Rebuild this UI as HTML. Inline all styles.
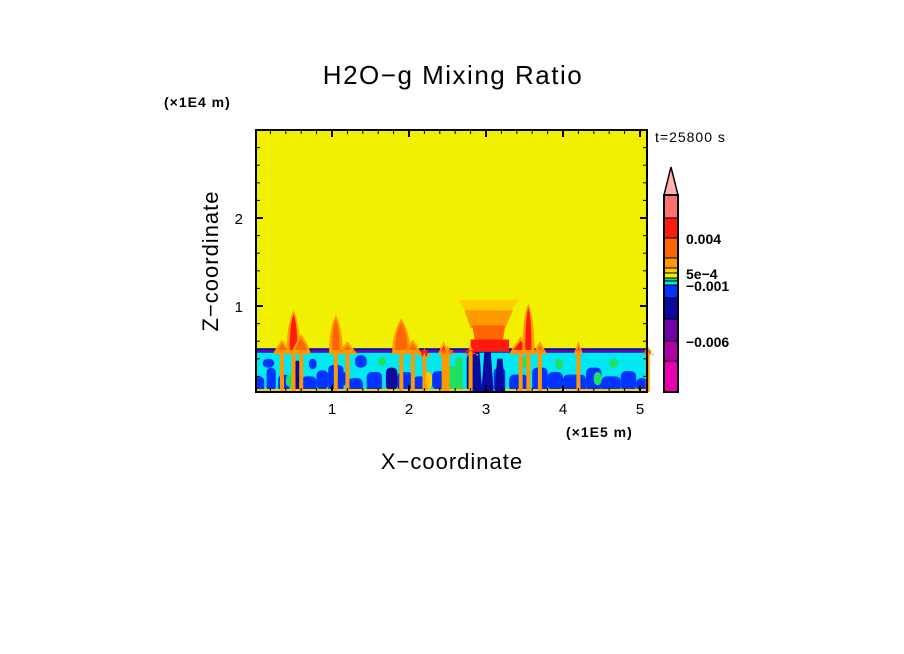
<!DOCTYPE html>
<html><head><meta charset="utf-8">
<style>
html,body{margin:0;padding:0;background:#fff;}
svg{display:block;font-family:"Liberation Sans",sans-serif;}
</style></head>
<body>
<svg id="chart" width="904" height="654" viewBox="0 0 904 654" xmlns="http://www.w3.org/2000/svg">
<text x="453" y="84" font-size="26" text-anchor="middle" fill="#000" letter-spacing="1.5">H2O−g Mixing Ratio</text>
<text x="164" y="107" font-size="14" fill="#000" letter-spacing="1" font-weight="bold">(×1E4 m)</text>
<text x="655" y="142" font-size="14" fill="#000" letter-spacing="1">t=25800 s</text>
<text x="566" y="437" font-size="14" fill="#000" letter-spacing="1" font-weight="bold">(×1E5 m)</text>
<text x="452" y="469" font-size="22" text-anchor="middle" fill="#000" letter-spacing="1">X−coordinate</text>
<text x="218" y="261" font-size="22" text-anchor="middle" fill="#000" letter-spacing="1" transform="rotate(-90 218 261)">Z−coordinate</text>
<g id="plot"></g>
<g id="axes"></g>
<g id="cbar"></g>
</svg>
<script>
// ---- data ----
const xTicks = [1,2,3,4,5];
const zTicks = [1,2];
const levelColors = ["#e800b0","#b000a8","#7000a8","#0a0aa0","#0033ff","#00e8f0","#20e060","#f0f000","#ffcc00","#ff9900","#ff6600","#ff1a10","#ff7070"];
const levelLabels = ["-0.006","-0.001","5e-4","0.004"];
const labelLevelIdx = [2,5,8,11];
const blTop = 0.52;
const capDepth = 0.05;
// mottled lower layer cells: x (1e5 m), width, z-bottom, z-top, color level
const cellX = [0.0,0.15,0.3,0.5,0.6,0.8,0.95,1.2,1.45,1.7,1.85,2.05,2.3,2.5,2.75,3.1,3.3,3.6,3.8,4.0,4.3,4.5,4.75,4.95,0.1,0.7,1.3,1.6,2.6,3.45,3.9,4.6,0.4,1.1,2.2,3.7,4.4];
const cellW = [0.12,0.12,0.15,0.1,0.2,0.15,0.2,0.2,0.2,0.15,0.2,0.2,0.2,0.2,0.15,0.15,0.25,0.2,0.2,0.3,0.2,0.25,0.2,0.15,0.15,0.1,0.15,0.1,0.1,0.12,0.1,0.12,0.1,0.1,0.1,0.1,0.1];
const cellZ0 = [0.02,0.03,0.02,0.03,0.02,0.05,0.02,0.03,0.02,0.04,0.03,0.02,0.05,0.02,0.02,0.02,0.03,0.02,0.05,0.02,0.03,0.02,0.04,0.03,0.3,0.28,0.3,0.32,0.3,0.3,0.28,0.3,0.08,0.1,0.06,0.1,0.1];
const cellZ1 = [0.2,0.3,0.22,0.38,0.2,0.27,0.33,0.18,0.25,0.3,0.25,0.2,0.26,0.32,0.46,0.3,0.22,0.3,0.25,0.22,0.3,0.2,0.26,0.18,0.4,0.4,0.44,0.42,0.42,0.42,0.4,0.4,0.22,0.25,0.25,0.3,0.25];
const cellLev = [4,4,4,3,4,4,4,4,4,3,4,4,4,6,3,4,4,4,4,4,4,4,4,4,4,4,4,6,6,6,6,6,6,4,8,4,6];
// convective plumes: x (1e5 m), top z (1e4 m), width (1e5 m), color level
const plumeX = [0.35,0.5,0.6,1.05,1.2,1.9,2.05,2.2,2.45,2.5,2.8,3.45,3.55,3.7,4.2,5.1];
const plumeTop = [0.62,0.95,0.68,0.9,0.6,0.86,0.62,0.52,0.6,0.55,0.55,0.65,1.03,0.6,0.6,0.55];
const plumeW = [0.16,0.1,0.16,0.1,0.2,0.16,0.16,0.08,0.08,0.14,0.12,0.2,0.08,0.12,0.05,0.08];
const plumeLev = [10,11,10,10,10,10,10,11,11,10,11,11,11,10,11,10];
// anvil layers: x-start, x-end (at top), x-start, x-end (at bottom), z-bottom, z-top, level
const anvX0 = [2.65,2.72,2.82,2.8];
const anvX1 = [3.42,3.35,3.25,3.3];
const anvB0 = [2.75,2.8,2.88,2.8];
const anvB1 = [3.3,3.25,3.2,3.3];
const anvZ0 = [0.9,0.75,0.5,0.48];
const anvZ1 = [1.07,0.95,0.78,0.62];
const anvLev = [8,9,10,11];
const coreX = [2.88,3.02,3.18];
const coreTop = [0.48,0.5,0.4];
const coreW = [0.14,0.16,0.14];

// ---- axes ----
const X0=256,X1=647,Y0=130,Y1=392;
const sx = v => 255 + v*77;
const sz = v => 394 - v*88;
const NS="http://www.w3.org/2000/svg";
function mk(tag, parent, attrs){const e=document.createElementNS(NS,tag);for(const k in attrs)e.setAttribute(k,attrs[k]);parent.appendChild(e);return e;}
const plot=document.getElementById('plot');
const axes=document.getElementById('axes');
const cbar=document.getElementById('cbar');

let r=mk('rect',plot,{x:X0,y:Y0,width:X1-X0,height:Y1-Y0,fill:"#f0f000"});


r=mk('rect',plot,{x:X0,y:sz(blTop),width:X1-X0,height:Y1-sz(blTop),fill:levelColors[5]});


for(let i=0;i<cellX.length;i++){
  const c=mk('rect',plot,{x:sx(cellX[i]),y:sz(cellZ1[i]),width:cellW[i]*77,height:sz(cellZ0[i])-sz(cellZ1[i]),fill:levelColors[cellLev[i]],rx:5});
  
  
}
r=mk('rect',plot,{x:X0,y:Y1-3,width:X1-X0,height:3,fill:levelColors[8]});


for(let i=0;i<coreX.length;i++){
  const cx=sx(coreX[i]);const w=coreW[i]*77;
  const c=mk('path',plot,{d:`M${cx-w/2},${Y1} L${cx-w/4},${sz(coreTop[i])} L${cx+w/4},${sz(coreTop[i])} L${cx+w/2},${Y1} Z`,fill:levelColors[3]});
  
  
}
r=mk('rect',plot,{x:X0,y:sz(blTop),width:X1-X0,height:sz(blTop-capDepth)-sz(blTop),fill:levelColors[3]});


r=mk('rect',plot,{x:X0,y:sz(blTop-capDepth*0.4),width:X1-X0,height:2,fill:levelColors[2]});


for(let i=0;i<anvX0.length;i++){
  const p=mk('path',plot,{d:`M${sx(anvX0[i])},${sz(anvZ1[i])} L${sx(anvX1[i])},${sz(anvZ1[i])} L${sx(anvB1[i])},${sz(anvZ0[i])} L${sx(anvB0[i])},${sz(anvZ0[i])} Z`,fill:levelColors[anvLev[i]]});
  
  
}
for(let i=0;i<plumeX.length;i++){
  const cx=sx(plumeX[i]), top=sz(plumeTop[i]), w=plumeW[i]*77, base=sz(blTop-0.02);
  const s=mk('rect',plot,{x:cx-2,y:base,width:4,height:Y1-base,fill:levelColors[9]});
  
  
  const g=mk('path',plot,{d:`M${cx-w/2-3},${base+4} Q${cx-w/2-3},${top+14} ${cx},${top} Q${cx+w/2+3},${top+14} ${cx+w/2+3},${base+4} Z`,fill:levelColors[9]});
  
  
  const p=mk('path',plot,{d:`M${cx-w/2},${base} Q${cx-w/2},${top+14} ${cx},${top+4} Q${cx+w/2},${top+14} ${cx+w/2},${base} Z`,fill:levelColors[plumeLev[i]]});
  
  
}
r=mk('rect',axes,{x:X0,y:Y0,width:X1-X0,height:Y1-Y0,fill:"none",stroke:"#000","stroke-width":2});


for(let v=0.2;v<5.1;v+=0.2){
  const maj=Math.abs(v-Math.round(v))<1e-6;const L=maj?7:4;const x=sx(v);
  mk('line',axes,{x1:x,x2:x,y1:Y0,y2:Y0+L,stroke:"#000","stroke-width":maj?2:1});
  mk('line',axes,{x1:x,x2:x,y1:Y1,y2:Y1-L,stroke:"#000","stroke-width":maj?2:1});
}
for(let v=0.2;v<2.95;v+=0.2){
  const maj=Math.abs(v-Math.round(v))<1e-6;const L=maj?7:4;const y=sz(v);
  mk('line',axes,{x1:X0,x2:X0+L,y1:y,y2:y,stroke:"#000","stroke-width":maj?2:1});
  mk('line',axes,{x1:X1,x2:X1-L,y1:y,y2:y,stroke:"#000","stroke-width":maj?2:1});
}
xTicks.forEach(v=>{const t=mk('text',axes,{x:sx(v),y:414,"font-size":15,"text-anchor":"middle"});t.textContent=v;
  
  });
zTicks.forEach(v=>{const t=mk('text',axes,{x:243,y:sz(v)+6,"font-size":15,"text-anchor":"end"});t.textContent=v;
  
  });
const cbEdges=[392,361,341,319,298,285,281,278,273,268,258,238,218,195];
for(let i=0;i<levelColors.length;i++){
  const c=mk('rect',cbar,{x:664,y:cbEdges[i+1],width:14,height:cbEdges[i]-cbEdges[i+1],fill:levelColors[i],stroke:"#000","stroke-width":1});
  
  
}
const tri=mk('path',cbar,{d:"M664,195 L671,167 L678,195 Z",fill:"#ffb0b0",stroke:"#000","stroke-width":1.5});


mk('rect',cbar,{x:664,y:195,width:14,height:197,fill:"none",stroke:"#000","stroke-width":2});
levelLabels.forEach((lab,i)=>{const y=cbEdges[labelLevelIdx[i]];
  const t=mk('text',cbar,{x:686,y:y+6,"font-size":14,"font-weight":"bold"});t.textContent=lab.replace('-','−');
  
  });
</script>
</body></html>
